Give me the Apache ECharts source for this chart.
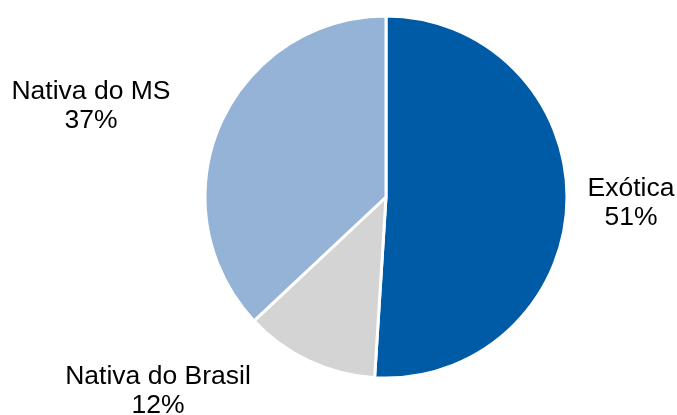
<!DOCTYPE html>
<html>
<head>
<meta charset="utf-8">
<script src="https://cdn.jsdelivr.net/npm/echarts@6/dist/echarts.min.js"></script>
<style>
html,body{margin:0;padding:0;background:#fff;}
#chart{width:677px;height:415px;}
</style>
</head>
<body>
<div id="chart"></div>
<script>
var categories = ['Exótica', 'Nativa do Brasil', 'Nativa do MS'];
var values = [51, 12, 37];

var colors = ['#005BA6', '#D4D4D4', '#95B3D7'];
var labelPos = [[631, 203], [158, 391], [91, 106]];

var chart = echarts.init(document.getElementById('chart'));
chart.setOption({
  animation: false,
  series: [{
    type: 'pie',
    center: [386, 197],
    radius: 181,
    startAngle: 90,
    clockwise: true,
    data: categories.map(function (c, i) {
      return { name: c, value: values[i], itemStyle: { color: colors[i] } };
    }),
    itemStyle: { borderColor: '#fff', borderWidth: 3 },
    label: {
      show: true,
      position: 'outside',
      formatter: '{b}\n{c}%',
      fontFamily: 'Liberation Sans',
      fontSize: 26.5,
      lineHeight: 29,
      color: '#000',
      align: 'center',
      overflow: 'none'
    },
    labelLine: { show: false },
    labelLayout: function (p) {
      var pos = labelPos[p.dataIndex];
      return { x: pos[0], y: pos[1], align: 'center', verticalAlign: 'middle' };
    },
    emphasis: { disabled: true }
  }]
});
</script>
</body>
</html>
